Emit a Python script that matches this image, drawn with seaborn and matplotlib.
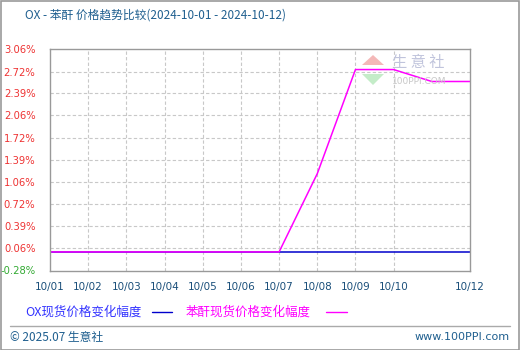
import matplotlib
matplotlib.use("Agg")
import matplotlib.pyplot as plt
import seaborn as sns
import pandas as pd
import numpy as np
from matplotlib.patches import Polygon, Rectangle
from matplotlib.lines import Line2D

sns.set_theme(style="white")
plt.rcParams['font.family'] = ['Noto Sans CJK SC', 'DejaVu Sans']

# ---- data ----
dates = ["10/01", "10/02", "10/03", "10/04", "10/05", "10/06",
         "10/07", "10/08", "10/09", "10/10", "10/11", "10/12"]
ox_change = [0, 0, 0, 0, 0, 0, 0, 0, 0, 0, 0, 0]
pa_change = [0, 0, 0, 0, 0, 0, 0, 1.18, 2.75, 2.75, 2.57, 2.57]
xtick_labels = ["10/01", "10/02", "10/03", "10/04", "10/05", "10/06",
                "10/07", "10/08", "10/09", "10/10", "10/12"]
ytick_values = [-0.28, 0.06, 0.39, 0.72, 1.06, 1.39, 1.72, 2.06, 2.39, 2.72, 3.06]
series_names = ["OX现货价格变化幅度", "苯酐现货价格变化幅度"]
title = "OX - 苯酐 价格趋势比较(2024-10-01 - 2024-10-12)"

df = pd.DataFrame({
    "pos": list(range(len(dates))) * 2,
    "value": ox_change + pa_change,
    "series": [series_names[0]] * len(dates) + [series_names[1]] * len(dates),
})

W, H = 520, 350
fig = plt.figure(figsize=(W / 100, H / 100), dpi=100)
fig.patch.set_facecolor("white")

ax = fig.add_axes([50 / W, 1 - 270.5 / H, 420 / W, 221.5 / H])
sns.lineplot(data=df, x="pos", y="value", hue="series",
             palette={series_names[0]: "#0000cc", series_names[1]: "#ff00ff"},
             linewidth=1.1, legend=False, ax=ax)

ax.set_xlim(0, 11)
ax.set_ylim(-0.28, 3.06)
tick_pos = [dates.index(t) for t in xtick_labels]
ax.set_xticks(tick_pos)
ax.set_xticklabels(xtick_labels, color="#1a4f7a", fontsize=7.5, family="DejaVu Sans")
ax.set_yticks(ytick_values)
ax.set_yticklabels([f"{v:.2f}%" for v in ytick_values], fontsize=7.2, family="DejaVu Sans")
for lbl, v in zip(ax.get_yticklabels(), ytick_values):
    lbl.set_color("#33aa33" if v < 0 else "#ee3333")
ax.tick_params(axis="both", length=0)
ax.tick_params(axis="y", pad=10.5)
ax.tick_params(axis="x", pad=8)
ax.set_xlabel("")
ax.set_ylabel("")

for x in tick_pos[1:-1]:
    ax.axvline(x, color="#c8c8c8", lw=0.8, ls=(0, (3, 2)), zorder=0)
for y in ytick_values[1:-1]:
    ax.axhline(y, color="#c8c8c8", lw=0.8, ls=(0, (3, 2)), zorder=0)
for s in ax.spines.values():
    s.set_color("#999999")
    s.set_linewidth(1.0)

# watermark
tr = fig.transFigure
def P(x, y):
    return (x / W, 1 - y / H)
fig.patches.append(Polygon([P(362, 65), P(384, 65), P(373, 55)], closed=True,
                           facecolor="#f4b8b8", edgecolor="none", transform=tr, zorder=1))
fig.patches.append(Polygon([P(362, 74), P(384, 74), P(373, 85)], closed=True,
                           facecolor="#c4ecc8", edgecolor="none", transform=tr, zorder=1))
fig.text(392 / W, 1 - 63 / H, "生 意 社", color="#c0c4dc", fontsize=11, va="center",
         ha="left", transform=tr, zorder=1)
fig.text(392 / W, 1 - 81 / H, "100PPI.COM", color="#c8c8c8", fontsize=6.5, va="center",
         ha="left", transform=tr, family="DejaVu Sans", zorder=1)

# title
fig.text(25 / W, 1 - 15 / H, title, color="#1f5f8f", fontsize=8.5, va="center", ha="left")

# legend
fig.text(25 / W, 1 - 312 / H, series_names[0], color="#3333ff", fontsize=9, va="center", ha="left")
fig.lines.append(Line2D([152 / W, 172 / W], [1 - 312 / H, 1 - 312 / H], color="#0000cc",
                        lw=1.0, transform=tr))
fig.text(186 / W, 1 - 312 / H, series_names[1], color="#ff00ff", fontsize=9, va="center", ha="left")
fig.lines.append(Line2D([326 / W, 347 / W], [1 - 312 / H, 1 - 312 / H], color="#ff00ff",
                        lw=1.0, transform=tr))

# footer
fig.lines.append(Line2D([10 / W, 510 / W], [1 - 326 / H, 1 - 326 / H], color="#aaaaaa",
                        lw=1.0, transform=tr))
fig.text(10 / W, 1 - 337 / H, "© 2025.07 生意社", color="#1f5f8f", fontsize=8.5, va="center", ha="left")
fig.text(510 / W, 1 - 337 / H, "www.100PPI.com", color="#1f5f8f", fontsize=8, va="center",
         ha="right", family="DejaVu Sans")

# outer border
fig.patches.append(Rectangle((0.5 / W, 0.5 / H), 1 - 1.5 / W, 1 - 1.5 / H, fill=False,
                             edgecolor="#999999", lw=1.2, transform=tr))

fig.savefig("out.png", dpi=100)
